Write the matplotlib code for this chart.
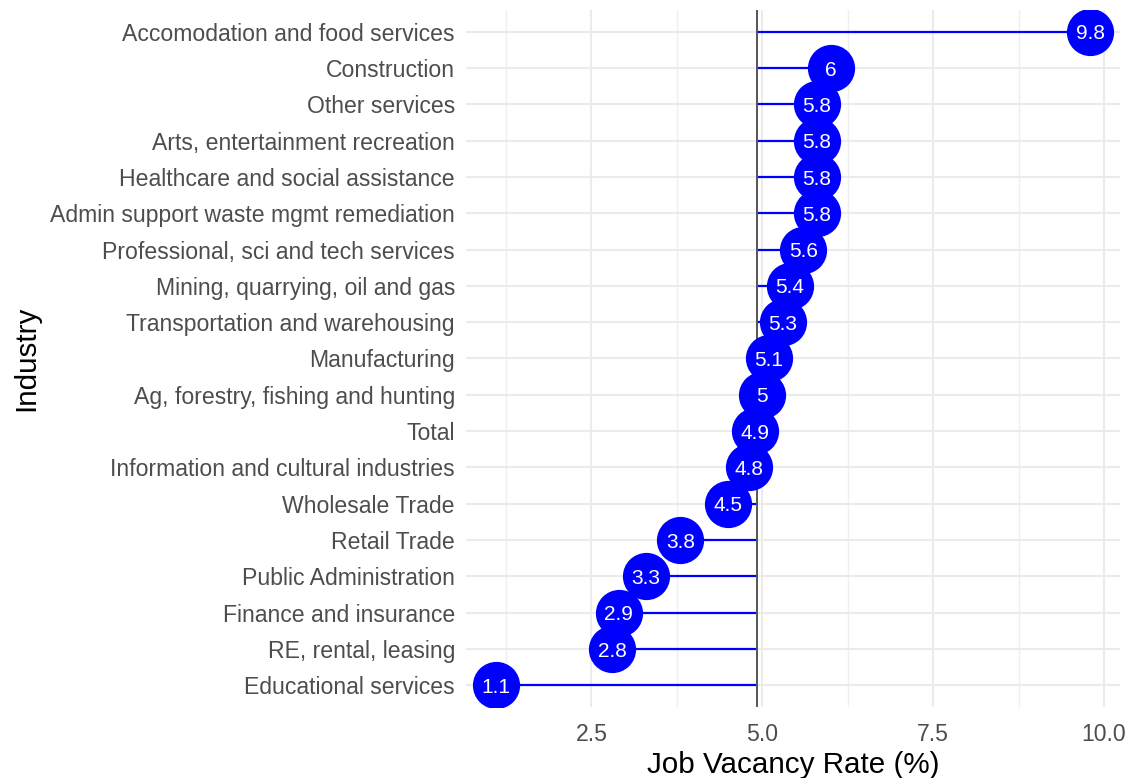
import matplotlib

matplotlib.use("Agg")
import matplotlib.pyplot as plt
import numpy as np

# bottom to top, as drawn
industries = [
    "Educational services",
    "RE, rental, leasing",
    "Finance and insurance",
    "Public Administration",
    "Retail Trade",
    "Wholesale Trade",
    "Information and cultural industries",
    "Total",
    "Ag, forestry, fishing and hunting",
    "Manufacturing",
    "Transportation and warehousing",
    "Mining, quarrying, oil and gas",
    "Professional, sci and tech services",
    "Admin support waste mgmt remediation",
    "Healthcare and social assistance",
    "Arts, entertainment recreation",
    "Other services",
    "Construction",
    "Accomodation and food services",
]
vacancy_rate = [1.1, 2.8, 2.9, 3.3, 3.8, 4.5, 4.8, 4.9, 5.0, 5.1, 5.3, 5.4,
                5.6, 5.8, 5.8, 5.8, 5.8, 6.0, 9.8]
x_ticks = [2.5, 5.0, 7.5, 10.0]
x_minor = [1.25, 3.75, 6.25, 8.75]

plt.rcParams["font.family"] = ["Liberation Sans", "DejaVu Sans"]

vals = np.array(vacancy_rate)
mean_rate = vals.mean()
ypos = np.arange(1, len(industries) + 1)

fig = plt.figure(figsize=(11.29, 7.78), dpi=100)
ax = fig.add_axes([0.4128, 0.0913, 0.5793, 0.8959])

# grid (ggplot theme_minimal look)
for x in x_ticks:
    ax.axvline(x, color="#ebebeb", lw=1.5, zorder=0)
for x in x_minor:
    ax.axvline(x, color="#efefef", lw=1.0, zorder=0)
for y in ypos:
    ax.axhline(y, color="#ebebeb", lw=1.5, zorder=0)

ax.hlines(ypos, mean_rate, vals, color="blue", lw=1.6, zorder=2)
ax.axvline(mean_rate, color="#555555", lw=1.4, zorder=3)
ax.scatter(vals, ypos, s=34 ** 2, color="blue", zorder=4, linewidths=0)
for v, y in zip(vals, ypos):
    ax.annotate(f"{v:g}", (v, y), xytext=(0, -5.5), textcoords="offset points",
                color="white", ha="center", va="baseline", fontsize=15, zorder=5)

span = max(vals.max(), mean_rate) - min(vals.min(), mean_rate)
ax.set_xlim(vals.min() - 0.05 * span, vals.max() + 0.05 * span)
ax.set_ylim(0.4, len(industries) + 0.6)
ax.set_xticks(x_ticks)
ax.set_xticklabels([f"{t:.1f}" for t in x_ticks])
ax.set_yticks(ypos)
ax.set_yticklabels(industries)
ax.tick_params(length=0, labelsize=16.6, labelcolor="#4d4d4d")
ax.tick_params(axis="x", pad=11.5)
ax.tick_params(axis="y", pad=8)
for s in ax.spines.values():
    s.set_visible(False)
ax.set_xlabel("Job Vacancy Rate (%)", fontsize=21.3, labelpad=4)
ax.set_ylabel("Industry", fontsize=21.3, labelpad=7)

fig.savefig("out.png", dpi=100)
